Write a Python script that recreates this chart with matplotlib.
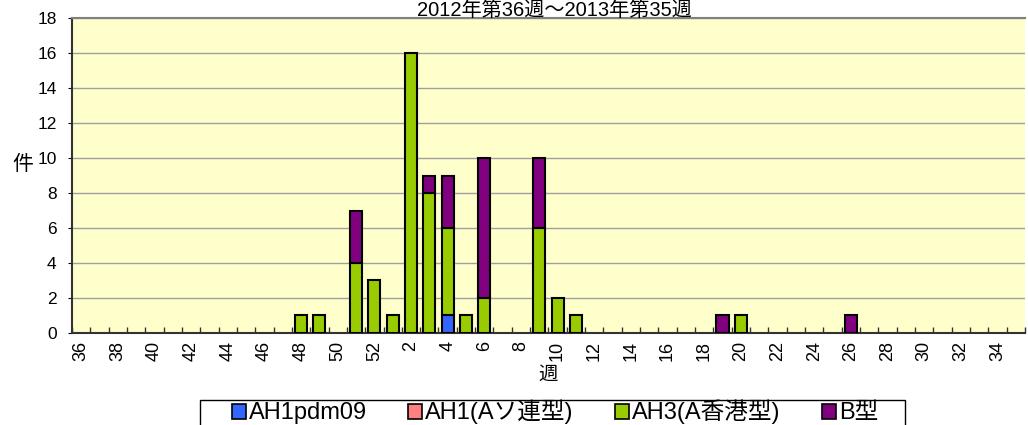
import matplotlib
matplotlib.use("Agg")
import matplotlib.pyplot as plt
from matplotlib.patches import Patch, Rectangle
import numpy as np

plt.rcParams['font.family'] = ['Liberation Sans', 'Noto Sans CJK JP', 'DejaVu Sans']

weeks = list(range(36, 53)) + list(range(1, 36))
ah1pdm09 = {4: 1}
ah1 = {}
ah3 = {48: 1, 49: 1, 51: 4, 52: 3, 1: 1, 2: 16, 3: 8, 4: 5, 5: 1, 6: 2, 9: 6, 10: 2, 11: 1, 20: 1}
b_type = {51: 3, 3: 1, 4: 3, 6: 8, 9: 4, 19: 1, 26: 1}

series_names = ['AH1pdm09', 'AH1(Aソ連型)', 'AH3(A香港型)', 'B型']
series_data = [ah1pdm09, ah1, ah3, b_type]
colors = ['#3366FF', '#FF8080', '#99CC00', '#800080']

title = '2012年第36週～2013年第35週'

W, H = 1028, 425
fig = plt.figure(figsize=(W / 100, H / 100), dpi=100)
ax = fig.add_axes([0.070, 0.2165, 0.927, 0.7411])
ax.set_facecolor('#FFFFCC')

x = np.arange(len(weeks))
bottom = np.zeros(len(weeks))
for name, d, c in zip(series_names, series_data, colors):
    vals = np.array([d.get(w, 0) for w in weeks], dtype=float)
    mask = vals > 0
    ax.bar(x[mask], vals[mask], bottom=bottom[mask], width=0.66, color=c,
           edgecolor='black', linewidth=1.5, zorder=3)
    bottom += vals

ax.set_xlim(-0.5, len(weeks) - 0.5)
ax.set_ylim(0, 18)
ax.set_yticks(range(0, 19, 2))
ax.yaxis.grid(True, color='#A0A0A0', linewidth=1, zorder=0)
ax.tick_params(axis='y', labelsize=12.5, length=3, direction='out', pad=8)

label_idx = [i for i, w in enumerate(weeks) if w % 2 == 0]
ax.set_xticks(label_idx)
ax.set_xticklabels([str(weeks[i]) for i in label_idx], rotation=90, fontsize=13)
ax.tick_params(axis='x', length=0, pad=6)
ax.set_xticks(np.arange(-0.5, len(weeks), 1.0), minor=True)
ax.tick_params(axis='x', which='minor', direction='in', length=4, width=1, color='#333333')

ax.spines['right'].set_visible(False)
ax.spines['top'].set_color('#808080')
ax.spines['top'].set_linewidth(1.5)
ax.spines['left'].set_linewidth(1.5)
ax.spines['bottom'].set_linewidth(1.5)
ax.spines['left'].set_color('#333333')
ax.spines['bottom'].set_color('#333333')

fig.text(0.539, 1 - 16.5 / H, title, ha='center', va='baseline', fontsize=14.5)
fig.text(0.022, 0.612, '件', ha='center', va='center', fontsize=15)
fig.text(0.533, 0.118, '週', ha='center', va='center', fontsize=14)

# legend box (extends beyond the bottom edge as in the reference)
fig.patches.append(Rectangle((200 / W, -0.05), 705 / W, 0.05 + (H - 400) / H,
                             transform=fig.transFigure, facecolor='white',
                             edgecolor='black', linewidth=1, zorder=1))
handles = [Patch(facecolor=c, edgecolor='black', linewidth=1.2) for c in colors]
leg = fig.legend(handles, series_names, loc='center', bbox_to_anchor=(555 / W, 1 - 412 / H),
                 ncol=4, fontsize=17, frameon=False,
                 handlelength=0.6, handleheight=0.6, handletextpad=0.12, columnspacing=1.75,
                 borderpad=0, borderaxespad=0)
leg.set_zorder(2)

fig.savefig('out.png', dpi=100)
